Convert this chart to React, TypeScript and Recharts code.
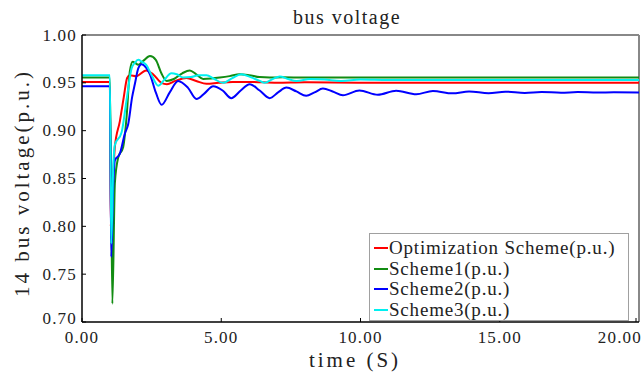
import React from 'react'
import { LineChart, Line, XAxis, YAxis, ReferenceLine, Legend } from 'recharts'

// [time (s), voltage (p.u.)]
const optimizationScheme: [number, number][] = [
  [0, 0.951], [1.0, 0.951], [1.03, 0.8], [1.08, 0.83], [1.18, 0.883], [1.36, 0.91],
  [1.5, 0.935], [1.62, 0.955], [1.72, 0.958], [1.95, 0.957], [2.3, 0.963], [2.55, 0.959],
  [2.85, 0.95], [3.05, 0.9486], [3.35, 0.952], [3.75, 0.955], [4.1, 0.952], [4.47, 0.949],
  [4.9, 0.95], [5.4, 0.951], [6.0, 0.951], [7.0, 0.95], [8.0, 0.9505], [10, 0.95],
  [14, 0.95], [20, 0.95],
]

const scheme1: [number, number][] = [
  [0, 0.9555], [1.0, 0.9555], [1.09, 0.719], [1.18, 0.845], [1.3, 0.872], [1.48, 0.883],
  [1.6, 0.914], [1.72, 0.9625], [1.82, 0.972], [1.9, 0.971], [2.02, 0.969], [2.2, 0.973],
  [2.44, 0.978], [2.65, 0.974], [2.85, 0.96], [3.04, 0.952], [3.3, 0.954], [3.6, 0.96],
  [3.87, 0.963], [4.1, 0.959], [4.35, 0.954], [4.65, 0.9545], [4.95, 0.9555], [5.3, 0.957],
  [5.66, 0.959], [6.0, 0.958], [6.38, 0.956], [6.74, 0.9555], [7.2, 0.9558], [8, 0.9555],
  [10, 0.9555], [20, 0.9555],
]

const scheme2: [number, number][] = [
  [0, 0.9465], [1.0, 0.9465], [1.05, 0.768], [1.12, 0.84], [1.18, 0.869], [1.36, 0.876],
  [1.54, 0.897], [1.66, 0.907], [1.8, 0.935], [1.9, 0.949], [2.02, 0.965], [2.14, 0.9695],
  [2.3, 0.966], [2.44, 0.959], [2.65, 0.94], [2.86, 0.927], [3.15, 0.94], [3.45, 0.952],
  [3.8, 0.945], [4.11, 0.933], [4.4, 0.939], [4.71, 0.9465], [5.05, 0.942], [5.36, 0.934],
  [5.7, 0.942], [6.02, 0.9486], [6.38, 0.942], [6.74, 0.934], [7.04, 0.94], [7.34, 0.945],
  [7.7, 0.941], [8.05, 0.9365], [8.35, 0.94], [8.65, 0.944], [9.0, 0.941], [9.37, 0.937],
  [9.96, 0.942], [10.62, 0.9375], [11.28, 0.9417], [12.0, 0.938], [12.6, 0.9415],
  [13.3, 0.939], [13.9, 0.941], [14.6, 0.9392], [15.2, 0.9408], [15.9, 0.9395],
  [16.5, 0.9405], [17.2, 0.9397], [17.8, 0.9403], [18.5, 0.9398], [19.1, 0.9402], [20, 0.94],
]

const scheme3: [number, number][] = [
  [0, 0.958], [1.0, 0.958], [1.05, 0.782], [1.12, 0.86], [1.18, 0.885], [1.42, 0.898],
  [1.6, 0.932], [1.78, 0.965], [1.9, 0.971], [2.02, 0.974], [2.15, 0.972], [2.3, 0.969],
  [2.5, 0.958], [2.74, 0.947], [2.95, 0.953], [3.21, 0.96], [3.4, 0.959], [3.63, 0.9555],
  [3.9, 0.956], [4.2, 0.958], [4.47, 0.958], [4.75, 0.954], [5.06, 0.95], [5.4, 0.955],
  [5.72, 0.959], [6.05, 0.956], [6.38, 0.952], [6.56, 0.95], [6.85, 0.954], [7.1, 0.9566],
  [7.4, 0.954], [7.7, 0.952], [8.2, 0.954], [8.7, 0.9535], [9.3, 0.952], [10, 0.9535],
  [11, 0.953], [12, 0.953], [20, 0.953],
]

const seriesNames = ['Optimization Scheme(p.u.)', 'Scheme1(p.u.)', 'Scheme2(p.u.)', 'Scheme3(p.u.)']
const seriesColors = ['#ff0000', '#128c12', '#0000ff', '#00f0f0']
const xTicks = [0, 5, 10, 15, 20]
const yTicks = [0.7, 0.75, 0.8, 0.85, 0.9, 0.95, 1.0]

const FONT = '"Liberation Serif", "DejaVu Serif", serif'

const toPoints = (arr: [number, number][]) => arr.map(([t, v]) => ({ t, v }))
const allSeries = [optimizationScheme, scheme1, scheme2, scheme3].map(toPoints)

function XTick({ x, y, payload }: any) {
  const last = payload.value === 20
  return (
    <g>
      <line x1={x} y1={y} x2={x} y2={y - 4} stroke="#000" />
      <text
        x={last ? 642 : x}
        y={y + 21}
        textAnchor={last ? 'end' : 'middle'}
        fontFamily={FONT}
        fontSize={17}
        letterSpacing={1.2}
        fill="#222"
      >
        {payload.value.toFixed(2)}
      </text>
    </g>
  )
}

function YTick({ x, y, payload }: any) {
  // bottom label lifted a little so it clears the x-axis labels
  const dy = payload.value === 0.7 ? '0.1em' : '0.33em'
  return (
    <g>
      <line x1={x} y1={y} x2={x + 4} y2={y} stroke="#000" />
      <text x={x - 5} y={y} dy={dy} textAnchor="end" fontFamily={FONT} fontSize={17} letterSpacing={1.2} fill="#222">
        {payload.value.toFixed(2)}
      </text>
    </g>
  )
}

function LegendBox() {
  return (
    <div
      style={{
        width: 260,
        height: 88,
        boxSizing: 'border-box',
        border: '1px solid #a0a0a0',
        background: '#fff',
        padding: '4px 0 0 4px',
        fontFamily: FONT,
        fontSize: 19,
        letterSpacing: 0.8,
        lineHeight: '20px',
        color: '#222',
      }}
    >
      {seriesNames.map((name, i) => (
        <div key={name} style={{ display: 'flex', alignItems: 'center', height: 20.5 }}>
          <div style={{ width: 14, height: 2, background: seriesColors[i], marginRight: 1, flex: 'none' }} />
          <span style={{ whiteSpace: 'pre' }}>{name}</span>
        </div>
      ))}
    </div>
  )
}

export default function App() {
  return (
    <div style={{ position: 'absolute', left: 0, top: 0, width: 644, height: 373, background: '#fff' }}>
      <div
        style={{
          position: 'absolute',
          left: 247,
          top: 7,
          width: 200,
          textAlign: 'center',
          fontFamily: FONT,
          fontSize: 20,
          letterSpacing: 1.5,
          lineHeight: '20px',
          color: '#222',
        }}
      >
        bus voltage
      </div>
      <LineChart width={644} height={373} margin={{ top: 35, right: 5, bottom: 0, left: 0 }}>
        <XAxis
          dataKey="t"
          type="number"
          domain={[0, 20]}
          ticks={xTicks}
          height={51}
          stroke="#000"
          strokeWidth={1.5}
          tickSize={0}
          tickMargin={0}
          tickLine={false}
          tick={<XTick />}
          allowDataOverflow
          label={{
            content: () => (
              <text x={355} y={367} textAnchor="middle" fontFamily={FONT} fontSize={21} letterSpacing={3} fill="#222">
                time (S)
              </text>
            ),
          }}
        />
        <YAxis
          type="number"
          domain={[0.7, 1.0]}
          ticks={yTicks}
          width={82}
          stroke="#000"
          strokeWidth={1.5}
          tickSize={0}
          tickMargin={0}
          tickLine={false}
          tick={<YTick />}
          allowDataOverflow
          label={{
            content: () => (
              <text
                x={22}
                y={183}
                transform="rotate(-90 22 183)"
                textAnchor="middle"
                dominantBaseline="central"
                fontFamily={FONT}
                fontSize={21}
                letterSpacing={3}
                fill="#222"
              >
                14 bus voltage(p.u.)
              </text>
            ),
          }}
        />
        <ReferenceLine y={1.0} stroke="#888" strokeWidth={2} />
        <ReferenceLine x={20} stroke="#888" strokeWidth={2} />
        {allSeries.map((pts, i) => (
          <Line
            key={seriesNames[i]}
            data={pts}
            dataKey="v"
            name={seriesNames[i]}
            type="monotone"
            stroke={seriesColors[i]}
            strokeWidth={2}
            dot={false}
            activeDot={false}
            isAnimationActive={false}
          />
        ))}
        <Legend
          layout="horizontal"
          verticalAlign="middle"
          align="center"
          content={<LegendBox />}
          wrapperStyle={{ left: 369, top: 233, width: 260, height: 88, margin: 0 }}
        />
      </LineChart>
    </div>
  )
}
